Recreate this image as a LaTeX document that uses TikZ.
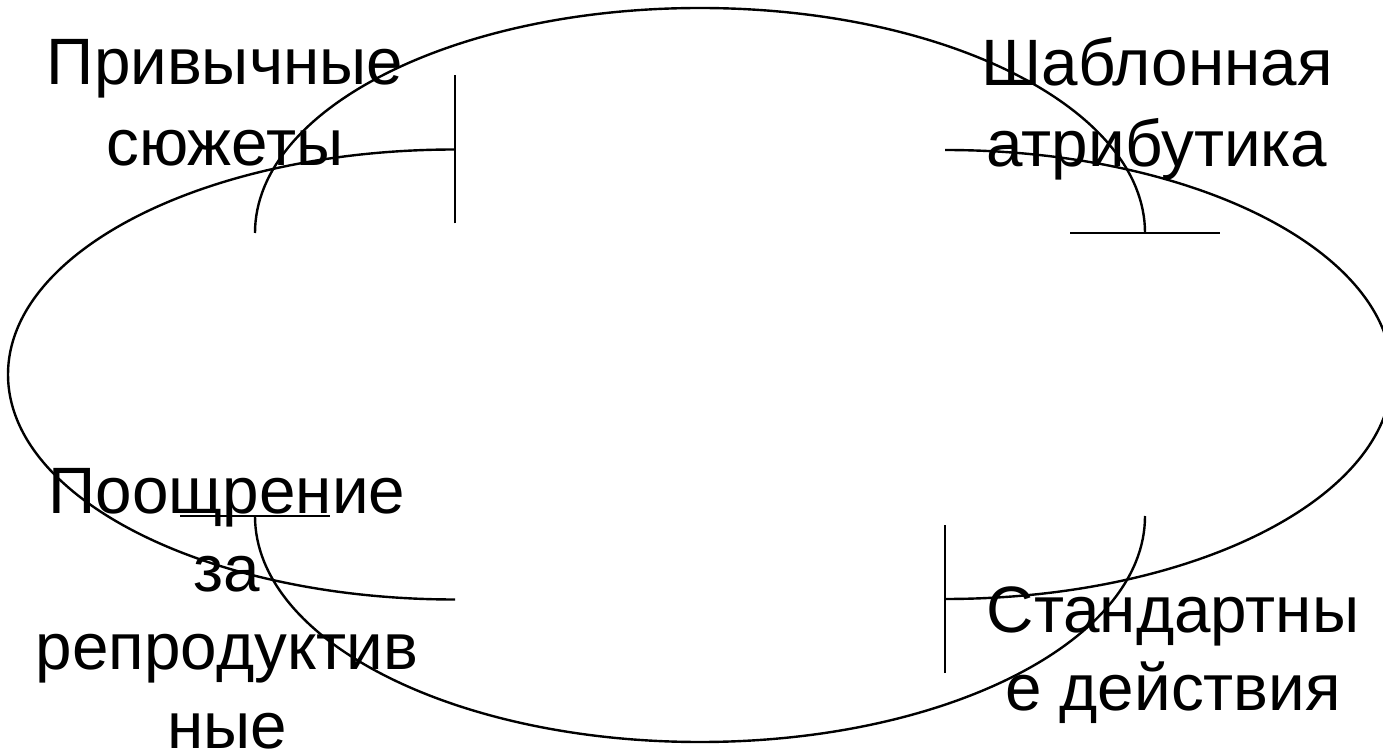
\documentclass[tikz,border=0pt]{standalone}
\usepackage{fontspec}
\setmainfont{Liberation Sans}
\begin{document}
\begin{tikzpicture}[x=1pt,y=1pt,
  cyc/.style={line width=2.4pt,black},
  barline/.style={line width=2.4pt,black,line cap=butt},
  lbl/.style={inner sep=0pt,align=center,anchor=base,font=\fontsize{65.6}{79}\selectfont}]
\useasboundingbox (0,0) rectangle (1383,750);
% arc end points
\coordinate (lS) at (455,150.5);
\coordinate (lE) at (455,600.5);
\coordinate (tS) at (255,517);
\coordinate (tE) at (1145,517);
\coordinate (rS) at (945,600);
\coordinate (rE) at (945,151);
\coordinate (bS) at (1145,234);
\coordinate (bE) at (255,234);
% four half ellipses forming a cycle
\draw[cyc] (lS) arc[start angle=270,end angle=90,x radius=447,y radius=225];
\draw[cyc] (tS) arc[start angle=180,end angle=0,x radius=445,y radius=225];
\draw[cyc] (rS) arc[start angle=90,end angle=-90,x radius=447,y radius=224.5];
\draw[cyc] (bS) arc[start angle=0,end angle=-180,x radius=445,y radius=226];
% bar ends
\draw[barline] ([yshift=-74pt]lE) -- ([yshift=74pt]lE);
\draw[barline] ([xshift=-75pt]tE) -- ([xshift=75pt]tE);
\draw[barline] ([yshift=-74pt]rE) -- ([yshift=74pt]rE);
\draw[barline] ([xshift=-75pt]bE) -- ([xshift=75pt]bE);
% labels (anchor base = baseline of last line)
\node[lbl,font=\fontsize{65.6}{81}\selectfont] (n1) at (225,584) {Привычные\\сюжеты};
\node[lbl,font=\fontsize{65.6}{81}\selectfont] (n2) at (1157,583) {Шаблонная\\атрибутика};
\node[lbl,font=\fontsize{65.6}{78.3}\selectfont] (n3) at (227,2) {Поощрение\\за\\репродуктив\\ные};
\node[lbl,font=\fontsize{65.6}{78}\selectfont] (n4) at (1173,40) {Стандартны\\е действия};
\end{tikzpicture}
\end{document}
